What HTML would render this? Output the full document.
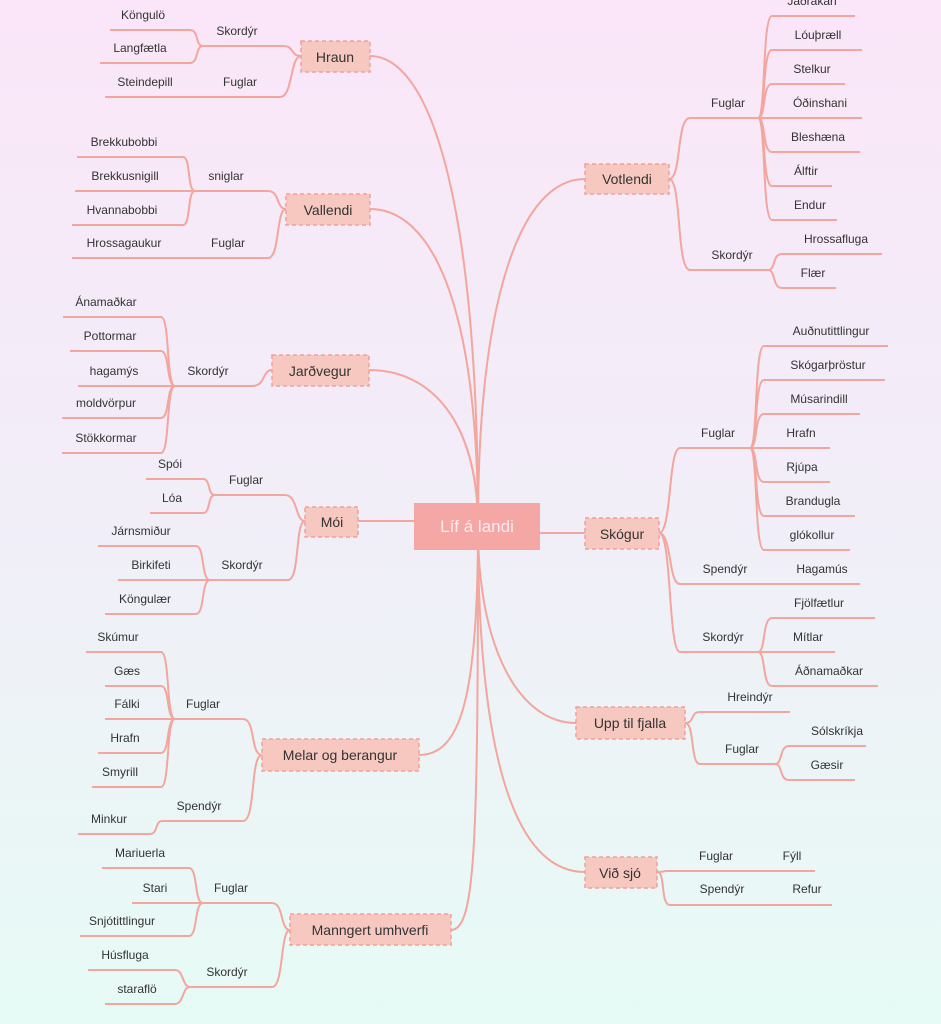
<!DOCTYPE html>
<html><head><meta charset="utf-8"><style>
html,body{margin:0;padding:0}
body{width:941px;height:1024px;background:linear-gradient(180deg,#fae6f8 0%,#f1eef8 50%,#e6fbf5 100%);overflow:hidden}
svg{display:block}
text{font-family:"Liberation Sans",sans-serif;font-size:12px;fill:#333;text-anchor:middle}
.b{font-size:14px;fill:#333}
path{fill:none;stroke:#f3a69e;stroke-width:2}
.bx{fill:#f6c8c0;stroke:#eea19c;stroke-width:1.5;stroke-dasharray:4 3}
</style></head><body>
<svg width="941" height="1024" viewBox="0 0 941 1024">
<!-- main connectors -->
<path d="M478,527 C478,300 520,179 585,179"/>
<path d="M540,533 L585,533"/>
<path d="M478,527 C478,650 520,723 576,723"/>
<path d="M478,527 C478,800 530,872 585,872"/>
<path d="M478,527 C478,200 430,56 370,56"/>
<path d="M478,527 C478,300 430,209 370,209"/>
<path d="M478,527 C478,420 430,370 369,370"/>
<path d="M358,521 L414,521"/>
<path d="M478,527 C478,700 460,755 419,755"/>
<path d="M478,527 C478,850 475,930 451,930"/>

<!-- Votlendi -->
<path d="M669,179 C682,179 676,118 690,118 L758,118"/>
<path d="M758,118 C766,118 762,16 772,16 L855,16"/>
<path d="M758,118 C766,118 762,50 772,50 L862,50"/>
<path d="M758,118 C766,118 762,84 772,84 L845,84"/>
<path d="M758,118 L862,118"/>
<path d="M758,118 C766,118 762,152 772,152 L860,152"/>
<path d="M758,118 C766,118 762,186 772,186 L832,186"/>
<path d="M758,118 C766,118 762,220 772,220 L837,220"/>
<path d="M669,179 C682,179 676,270 690,270 L768,270"/>
<path d="M768,270 C776,270 772,254 782,254 L882,254"/>
<path d="M768,270 C776,270 772,288 782,288 L836,288"/>
<rect class="bx" x="585" y="164" width="84" height="30"/>
<text class="b" x="627" y="184">Votlendi</text>
<text x="728" y="107">Fuglar</text>
<text x="812" y="5">Jaðrakan</text>
<text x="818" y="39">Lóuþræll</text>
<text x="812" y="73">Stelkur</text>
<text x="820" y="107">Óðinshani</text>
<text x="818" y="141">Bleshæna</text>
<text x="806" y="175">Álftir</text>
<text x="810" y="209">Endur</text>
<text x="732" y="259">Skordýr</text>
<text x="836" y="243">Hrossafluga</text>
<text x="813" y="277">Flær</text>

<!-- Skógur -->
<path d="M659,533 C672,533 668,448 680,448 L750,448"/>
<path d="M750,448 C758,448 754,346 764,346 L888,346"/>
<path d="M750,448 C758,448 754,380 764,380 L885,380"/>
<path d="M750,448 C758,448 754,414 764,414 L860,414"/>
<path d="M750,448 L830,448"/>
<path d="M750,448 C758,448 754,482 764,482 L830,482"/>
<path d="M750,448 C758,448 754,516 764,516 L855,516"/>
<path d="M750,448 C758,448 754,550 764,550 L850,550"/>
<path d="M659,533 C672,533 668,584 680,584 L860,584"/>
<path d="M659,533 C672,533 668,652 680,652 L758,652"/>
<path d="M758,652 C766,652 762,618 772,618 L875,618"/>
<path d="M758,652 L835,652"/>
<path d="M758,652 C766,652 762,686 772,686 L878,686"/>
<rect class="bx" x="585" y="518" width="74" height="31"/>
<text class="b" x="622" y="539">Skógur</text>
<text x="718" y="437">Fuglar</text>
<text x="831" y="335">Auðnutittlingur</text>
<text x="828" y="369">Skógarþröstur</text>
<text x="819" y="403">Músarindill</text>
<text x="801" y="437">Hrafn</text>
<text x="802" y="471">Rjúpa</text>
<text x="813" y="505">Brandugla</text>
<text x="812" y="539">glókollur</text>
<text x="725" y="573">Spendýr</text>
<text x="822" y="573">Hagamús</text>
<text x="723" y="641">Skordýr</text>
<text x="819" y="607">Fjölfætlur</text>
<text x="808" y="641">Mítlar</text>
<text x="829" y="675">Áðnamaðkar</text>

<!-- Upp til fjalla -->
<path d="M685,723 C695,723 690,712 700,712 L790,712"/>
<path d="M685,723 C695,723 690,764 700,764 L775,764"/>
<path d="M775,764 C783,764 779,746 789,746 L866,746"/>
<path d="M775,764 C783,764 779,780 789,780 L855,780"/>
<rect class="bx" x="576" y="707" width="109" height="32"/>
<text class="b" x="630" y="728">Upp til fjalla</text>
<text x="750" y="701">Hreindýr</text>
<text x="742" y="753">Fuglar</text>
<text x="837" y="735">Sólskríkja</text>
<text x="827" y="769">Gæsir</text>

<!-- Við sjó -->
<path d="M657,872 C664,872 662,871 668,871 L815,871"/>
<path d="M657,872 C666,872 660,905 670,905 L832,905"/>
<rect class="bx" x="585" y="857" width="72" height="31"/>
<text class="b" x="620" y="878">Við sjó</text>
<text x="716" y="860">Fuglar</text>
<text x="792" y="860">Fýll</text>
<text x="722" y="893">Spendýr</text>
<text x="807" y="893">Refur</text>

<!-- Hraun -->
<path d="M301,56 C290,56 295,46 283,46 L203,46"/>
<path d="M203,46 C195,46 199,30 190,30 L110,30"/>
<path d="M203,46 C195,46 199,63 190,63 L100,63"/>
<path d="M301,56 C290,56 293,97 280,97 L105,97"/>
<rect class="bx" x="301" y="41" width="69" height="31"/>
<text class="b" x="335" y="62">Hraun</text>
<text x="237" y="35">Skordýr</text>
<text x="143" y="19">Köngulö</text>
<text x="140" y="52">Langfætla</text>
<text x="240" y="86">Fuglar</text>
<text x="145" y="86">Steindepill</text>

<!-- Vallendi -->
<path d="M286,209 C276,209 280,191 268,191 L195,191"/>
<path d="M195,191 C187,191 191,157 183,157 L77,157"/>
<path d="M195,191 L75,191"/>
<path d="M195,191 C187,191 191,225 183,225 L72,225"/>
<path d="M286,209 C276,209 280,258 268,258 L72,258"/>
<rect class="bx" x="286" y="194" width="84" height="31"/>
<text class="b" x="328" y="215">Vallendi</text>
<text x="226" y="180">sniglar</text>
<text x="124" y="146">Brekkubobbi</text>
<text x="125" y="180">Brekkusnigill</text>
<text x="122" y="214">Hvannabobbi</text>
<text x="228" y="247">Fuglar</text>
<text x="124" y="247">Hrossagaukur</text>

<!-- Jarðvegur -->
<path d="M272,370 C262,370 266,386 252,386 L175,386"/>
<path d="M175,386 C166,386 170,317 161,317 L63,317"/>
<path d="M175,386 C166,386 170,351 161,351 L70,351"/>
<path d="M175,386 L78,386"/>
<path d="M175,386 C166,386 170,418 161,418 L62,418"/>
<path d="M175,386 C166,386 170,453 161,453 L62,453"/>
<rect class="bx" x="272" y="355" width="97" height="31"/>
<text class="b" x="320" y="376">Jarðvegur</text>
<text x="208" y="375">Skordýr</text>
<text x="106" y="306">Ánamaðkar</text>
<text x="110" y="340">Pottormar</text>
<text x="114" y="375">hagamýs</text>
<text x="106" y="407">moldvörpur</text>
<text x="106" y="442">Stökkormar</text>

<!-- Móí -->
<path d="M305,521 C295,521 298,495 285,495 L215,495"/>
<path d="M215,495 C207,495 211,479 203,479 L146,479"/>
<path d="M215,495 C207,495 211,513 203,513 L150,513"/>
<path d="M305,521 C295,521 300,580 288,580 L210,580"/>
<path d="M210,580 C201,580 205,546 196,546 L98,546"/>
<path d="M210,580 L118,580"/>
<path d="M210,580 C201,580 205,614 196,614 L105,614"/>
<rect class="bx" x="305" y="507" width="53" height="30"/>
<text class="b" x="332" y="527">Mói</text>
<text x="246" y="484">Fuglar</text>
<text x="170" y="468">Spói</text>
<text x="172" y="502">Lóa</text>
<text x="242" y="569">Skordýr</text>
<text x="141" y="535">Járnsmiður</text>
<text x="151" y="569">Birkifeti</text>
<text x="145" y="603">Köngulær</text>

<!-- Melar og berangur -->
<path d="M262,755 C250,755 256,719 243,719 L175,719"/>
<path d="M175,719 C166,719 170,652 161,652 L86,652"/>
<path d="M175,719 C166,719 170,686 161,686 L105,686"/>
<path d="M175,719 L105,719"/>
<path d="M175,719 C166,719 170,753 161,753 L98,753"/>
<path d="M175,719 C166,719 170,787 161,787 L92,787"/>
<path d="M262,755 C250,755 256,821 243,821 L162,821 C155,821 158,834 150,834 L78,834"/>
<rect class="bx" x="262" y="739" width="157" height="32"/>
<text class="b" x="340" y="760">Melar og berangur</text>
<text x="203" y="708">Fuglar</text>
<text x="118" y="641">Skúmur</text>
<text x="127" y="675">Gæs</text>
<text x="127" y="708">Fálki</text>
<text x="125" y="742">Hrafn</text>
<text x="120" y="776">Smyrill</text>
<text x="199" y="810">Spendýr</text>
<text x="109" y="823">Minkur</text>

<!-- Manngert umhverfi -->
<path d="M290,930 C280,930 284,903 272,903 L203,903"/>
<path d="M203,903 C194,903 198,868 189,868 L102,868"/>
<path d="M203,903 L132,903"/>
<path d="M203,903 C194,903 198,936 189,936 L80,936"/>
<path d="M290,930 C280,930 284,987 272,987 L190,987"/>
<path d="M190,987 C182,987 184,970 175,970 L88,970"/>
<path d="M190,987 C182,987 184,1004 175,1004 L105,1004"/>
<rect class="bx" x="290" y="914" width="161" height="31"/>
<text class="b" x="370" y="935">Manngert umhverfi</text>
<text x="231" y="892">Fuglar</text>
<text x="140" y="857">Mariuerla</text>
<text x="155" y="892">Stari</text>
<text x="122" y="925">Snjótittlingur</text>
<text x="227" y="976">Skordýr</text>
<text x="125" y="959">Húsfluga</text>
<text x="137" y="993">staraflö</text>

<!-- center -->
<rect x="414" y="503" width="126" height="47" fill="#f4a7a5"/>
<text x="477" y="532" style="font-size:17px;fill:#fdecec">Líf á landi</text>
</svg>
</body></html>
